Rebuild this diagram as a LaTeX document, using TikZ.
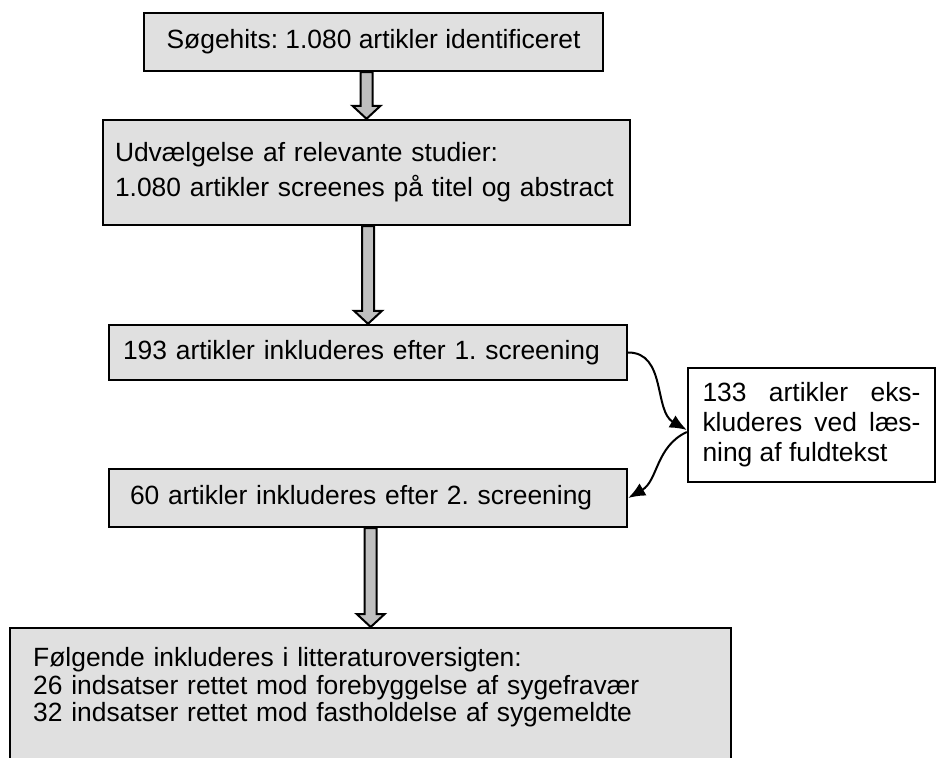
\documentclass[tikz,border=0pt]{standalone}
\usepackage{fontspec}
\setmainfont{Liberation Sans}
\usetikzlibrary{arrows.meta,calc}
\frenchspacing
\newcommand{\blkarrow}[2]{%
  \draw[line width=1pt, fill=black!25] let \p1=(#1.south), \p2=(#2.north) in
    (\x2-3pt,\y1) -- (\x2-3pt,\y2+6.5pt) -- (\x2-7pt,\y2+6.5pt) -- (\x2,\y2)
    -- (\x2+7pt,\y2+6.5pt) -- (\x2+3pt,\y2+6.5pt) -- (\x2+3pt,\y1) -- cycle;}
\begin{document}
\begin{tikzpicture}[x=0.5pt,y=-0.5pt,
    box/.style={draw, line width=1.2pt, fill=black!12, inner ysep=0pt, align=left,
      font=\fontsize{13.2pt}{15pt}\selectfont},
    curv/.style={line width=1pt, -{Latex[length=8.5pt,width=7pt]}}]
  \useasboundingbox (0,0) rectangle (936,758);
  \clip (0,0) rectangle (936,758);
  \node[box, minimum width=229.5pt, minimum height=29pt] (b0) at (373.5,42) {Søgehits: 1.080 artikler identificeret};
  \node[box, text width=251.5pt, inner xsep=6pt, minimum height=52.5pt,
    font=\fontsize{13.2pt}{17.5pt}\selectfont] (b1) at (366.5,172.5) {Udvælgelse af relevante studier:\\1.080 artikler screenes på titel og abstract};
  \node[box, text width=245pt, inner xsep=7pt, minimum height=27.5pt] (b2) at (368,352.5) {193 artikler inkluderes efter 1. screening};
  \node[box, text width=238pt, inner xsep=10.5pt, minimum height=29pt] (b3) at (368,498) {60 artikler inkluderes efter 2. screening};
  \node[box, anchor=north west, text width=337.5pt, inner xsep=11.5pt, inner ysep=9.75pt,
    font=\fontsize{13.2pt}{13.75pt}\selectfont] (b4) at (9,627) {Følgende inkluderes i litteraturoversigten:\\26 indsatser rettet mod forebyggelse af sygefravær\\32 indsatser rettet mod fastholdelse af sygemeldte\\\mbox{}};
  \node[draw, line width=1.2pt, text width=109pt, inner xsep=7.25pt, minimum height=57pt, align=justify,
    font=\fontsize{13.2pt}{15pt}\selectfont] (ex) at (811.5,425) {133 artikler eks-\linebreak kluderes ved læs-\linebreak ning af fuldtekst};
  \blkarrow{b0}{b1}
  \blkarrow{b1}{b2}
  \blkarrow{b3}{b4}
  \draw[curv] (b2.east) to[out=0, in=150] ([yshift=-2.5pt]ex.west);
  \draw[curv] ([yshift=-3.5pt]ex.west) to[out=205, in=30] (b3.east);
\end{tikzpicture}
\end{document}
